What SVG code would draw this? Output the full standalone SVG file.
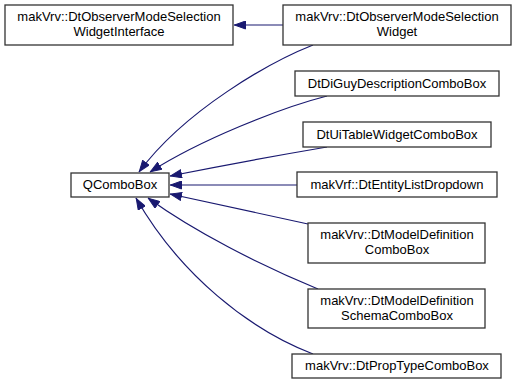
<svg xmlns="http://www.w3.org/2000/svg" width="517" height="387" viewBox="0 0 517 387">
<style>
.n rect{fill:#fff;stroke:#333;stroke-width:1.3}
.n text{font-family:"Liberation Sans",Arial,sans-serif;font-size:13px;fill:#000;text-anchor:middle}
.e path{fill:none;stroke:#191970;stroke-width:1.2}
</style>
<defs>
<marker id="ah" viewBox="0 0 12 9" refX="12" refY="4.5" markerWidth="12" markerHeight="9" markerUnits="userSpaceOnUse" orient="auto">
<path d="M0.5,0.5 L11.5,4.5 L0.5,8.5 z" fill="#191970" stroke="#191970" stroke-width="1"/>
</marker>
</defs>
<rect width="517" height="387" fill="#fff"/>
<g class="e" id="edges">
<path d="M283,25 L234,25" marker-end="url(#ah)"/>
<path d="M313,45 C270,62 185,110 139,172" marker-end="url(#ah)"/>
<path d="M327,96 C280,108 200,140 150,172" marker-end="url(#ah)"/>
<path d="M327,147 C280,155 220,166 170,176" marker-end="url(#ah)"/>
<path d="M297,185 L170,185" marker-end="url(#ah)"/>
<path d="M308,224 C270,216 220,205 170,194" marker-end="url(#ah)"/>
<path d="M318,289 C260,265 195,232 148,198" marker-end="url(#ah)"/>
<path d="M313,354 C250,330 180,275 136,198" marker-end="url(#ah)"/>
</g>
<g class="n" id="n_iface">
<rect x="5" y="5" width="228" height="40"/>
<text x="119" y="21">makVrv::DtObserverModeSelection</text>
<text x="119" y="36">WidgetInterface</text>
</g>
<g class="n" id="n_widget">
<rect x="283" y="5" width="228" height="40"/>
<text x="397" y="21">makVrv::DtObserverModeSelection</text>
<text x="397" y="36">Widget</text>
</g>
<g class="n" id="n_qcombo">
<rect x="71" y="173" width="98" height="24"/>
<text x="120" y="189">QComboBox</text>
</g>
<g class="n" id="n_diguy">
<rect x="295" y="71" width="204" height="25"/>
<text x="397" y="88">DtDiGuyDescriptionComboBox</text>
</g>
<g class="n" id="n_uitable">
<rect x="303" y="122" width="188" height="25"/>
<text x="397" y="139">DtUiTableWidgetComboBox</text>
</g>
<g class="n" id="n_entity">
<rect x="297" y="172" width="200" height="25"/>
<text x="397" y="189">makVrf::DtEntityListDropdown</text>
</g>
<g class="n" id="n_modeldef">
<rect x="308" y="223" width="177" height="40"/>
<text x="397" y="239">makVrv::DtModelDefinition</text>
<text x="397" y="254">ComboBox</text>
</g>
<g class="n" id="n_schema">
<rect x="308" y="289" width="177" height="39"/>
<text x="397" y="305">makVrv::DtModelDefinition</text>
<text x="397" y="320">SchemaComboBox</text>
</g>
<g class="n" id="n_prop">
<rect x="292" y="354" width="209" height="24"/>
<text x="397" y="370">makVrv::DtPropTypeComboBox</text>
</g>
</svg>
